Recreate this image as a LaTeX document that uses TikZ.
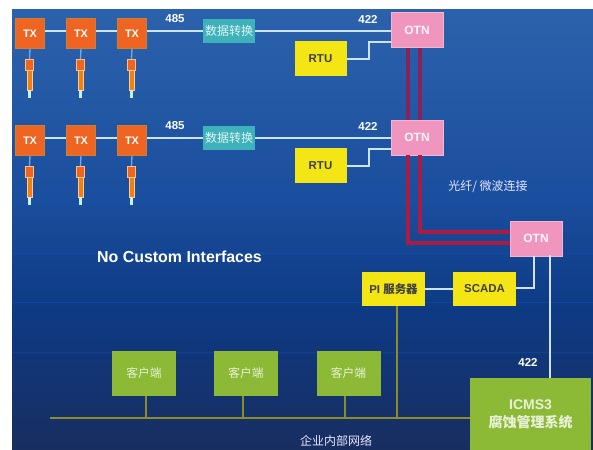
\documentclass[tikz,border=0pt]{standalone}
\usepackage{fontspec}
\setmainfont{Liberation Sans}
\newfontfamily\cjk{Noto Sans CJK SC}
\definecolor{bgTop}{RGB}{44,98,172}
\definecolor{bgMid}{RGB}{26,78,158}
\definecolor{bgLow}{RGB}{14,58,132}
\definecolor{bgEnd}{RGB}{24,46,96}
\definecolor{wireBlue}{RGB}{205,228,245}
\definecolor{stemBlue}{RGB}{110,170,230}
\definecolor{busOlive}{RGB}{140,140,40}
\definecolor{fibreTop}{RGB}{136,34,88}
\definecolor{fibreLow}{RGB}{170,28,68}
\definecolor{txOrange}{RGB}{238,100,32}
\definecolor{otnPink}{RGB}{240,150,190}
\definecolor{rtuYellow}{RGB}{244,230,20}
\definecolor{convTeal}{RGB}{62,178,186}
\definecolor{clientGreen}{RGB}{140,186,54}
\tikzset{
  box/.style={rectangle, inner sep=0pt, font=\bfseries},
  txbox/.style={box, fill=txOrange, draw=orange!60!gray, line width=0.6pt, minimum width=22pt, minimum height=22pt, text=white, font=\bfseries\fontsize{8.2}{10}\selectfont},
  otnbox/.style={box, fill=otnPink, draw=otnPink!70!white, line width=0.5pt, minimum width=39pt, minimum height=26pt, text=white!90!otnPink, font=\bfseries\fontsize{9}{11}\selectfont},
  yellowbox/.style={box, fill=rtuYellow, text=black!75, font=\bfseries\fontsize{8.6}{10}\selectfont},
  convbox/.style={box, fill=convTeal, minimum width=39pt, minimum height=18pt, text=white!85!convTeal, font=\cjk\fontsize{9}{11}\selectfont},
  clientbox/.style={box, fill=clientGreen, minimum width=48pt, minimum height=34pt, text=white!80!clientGreen, font=\cjk\fontsize{8.8}{10}\selectfont},
  wire/.style={wireBlue, line width=1.5pt},
  thinwire/.style={stemBlue, line width=1pt},
  bus/.style={busOlive, line width=1.8pt},
  fibre/.style={line width=2.3pt},
  label/.style={text=white, inner sep=0pt, font=\bfseries\fontsize{8.6}{10}\selectfont},
  cjklabel/.style={text=white!90!blue, inner sep=0pt, font=\cjk\fontsize{9}{11}\selectfont},
  probehead/.style={rectangle, inner sep=0pt, fill=txOrange, draw=orange!50!white, line width=0.3pt, minimum width=5.8pt, minimum height=8.2pt},
  probebody/.style={rectangle, inner sep=0pt, fill=orange!80!brown, draw=orange!40!white, line width=0.4pt, minimum width=3.4pt, minimum height=15pt},
  probetip/.style={rectangle, inner sep=0pt, fill=cyan!20!white, minimum width=2.6pt, minimum height=6pt}
}
\begin{document}
\begin{tikzpicture}[x=0.75pt, y=-0.75pt]
  \useasboundingbox (0,0) rectangle (593,450);

  % Backdrop
  \fill[white] (0,0) rectangle (593,450);
  \fill[top color=bgTop, bottom color=bgMid] (12,9) rectangle (593,200);
  \fill[top color=bgMid, bottom color=bgLow] (12,200) rectangle (593,310);
  \fill[top color=bgLow, bottom color=bgEnd] (12,310) rectangle (593,450);
  \foreach \y in {253,302,352}
    \draw[blue!50!cyan, opacity=0.18, line width=0.6pt] (12,\y) -- (593,\y);

  % Fibre links between the OTN boxes
  \node[otnbox] (otnA) at (417,30) {OTN};
  \node[otnbox] (otnB) at (417,137.5) {OTN};
  \node[otnbox] (otnC) at (536,238.5) {OTN};
  \coordinate (fibreOuter) at (408,243);
  \coordinate (fibreInner) at (420,232);
  \draw[fibre, fibreTop] (fibreOuter |- otnA.south) -- (fibreOuter |- otnB.north);
  \draw[fibre, fibreTop] (fibreInner |- otnA.south) -- (fibreInner |- otnB.north);
  \draw[fibre, fibreLow] (fibreOuter |- otnB.south) -- (fibreOuter) -- (fibreOuter -| otnC.west);
  \draw[fibre, fibreLow] (fibreInner |- otnB.south) -- (fibreInner) -- (fibreInner -| otnC.west);

  % Two field rows: TX chain, probes, converter, RTU
  \foreach \row/\y in {A/33.5, B/140.5}{
    \node[convbox] (conv\row) at (229,\y-3) {数据转换};
    \foreach \i/\x in {1/30, 2/81, 3/132}{
      \node[txbox] (tx\row\i) at (\x,\y) {TX};
      \node[probehead] (head\row\i) at (\x-0.5,\y+31) {};
      \node[probebody] (body\row\i) at (\x-0.5,\y+47) {};
      \node[probetip] (tip\row\i) at (\x-0.5,\y+60) {};
      \draw[thinwire] (tx\row\i.south) -- (head\row\i.north);
    }
    \node[yellowbox, minimum width=39pt, minimum height=26pt] (rtu\row) at (320.5,\y+25) {RTU};
    \coordinate (bend\row) at (369,\y+8);
    \draw[wire] (tx\row1.east |- conv\row) -- (tx\row2.west |- conv\row);
    \draw[wire] (tx\row2.east |- conv\row) -- (tx\row3.west |- conv\row);
    \draw[wire] (tx\row3.east |- conv\row) -- (conv\row.west);
    \draw[wire] (conv\row.east) -- (conv\row -| otn\row.west);
    \draw[wire] (rtu\row.east) -| (bend\row) -- (bend\row -| otn\row.west);
    \node[label] (rate\row) at (175,\y-14.5) {485};
    \node[label] (link\row) at (368,\y-14.5) {422};
  }

  \node[cjklabel] (fibreText) at (488,187) {光纤/ 微波连接};
  \node[text=white, inner sep=0pt, font=\bfseries\fontsize{11.95}{14}\selectfont] (noCustom) at (179.5,257) {No Custom Interfaces};

  % Control room
  \node[yellowbox, minimum width=47pt, minimum height=25.5pt] (piServer) at (393.5,289) {PI {\cjk 服务器}};
  \node[yellowbox, minimum width=47pt, minimum height=25.5pt] (scada) at (484.5,289) {SCADA};
  \node[box, fill=clientGreen, minimum width=91pt, minimum height=54pt, text=white!80!clientGreen, align=center, font=\bfseries\fontsize{10.5}{13.5}\selectfont] (icms) at (530.5,414) {ICMS3\\{\cjk 腐蚀管理系统}};
  \coordinate (scadaBend) at (534,288);
  \coordinate (otnDrop) at (550,255);
  \draw[wire] (piServer) -- (scada);
  \draw[wire] (scada.east |- scadaBend) -- (scadaBend) -- (scadaBend |- otnC.south);
  \draw[wire] (otnDrop) -- (otnDrop |- icms.north);
  \node[label] (icmsRate) at (528,362) {422};

  % Enterprise network
  \coordinate (busStart) at (50,418);
  \coordinate (piFoot) at (397,418);
  \draw[bus] (busStart) -- (busStart -| icms.west);
  \draw[bus] (piFoot |- piServer.south) -- (piFoot);
  \foreach \name/\x/\drop in {clientA/144/146, clientB/246/243, clientC/348.5/345}{
    \node[clientbox] (\name) at (\x,373.5) {客户端};
    \coordinate (\name Foot) at (\drop,418);
    \draw[bus] (\name Foot |- \name.south) -- (\name Foot);
  }
  \node[cjklabel] (lanText) at (336,441) {企业内部网络};
\end{tikzpicture}
\end{document}
